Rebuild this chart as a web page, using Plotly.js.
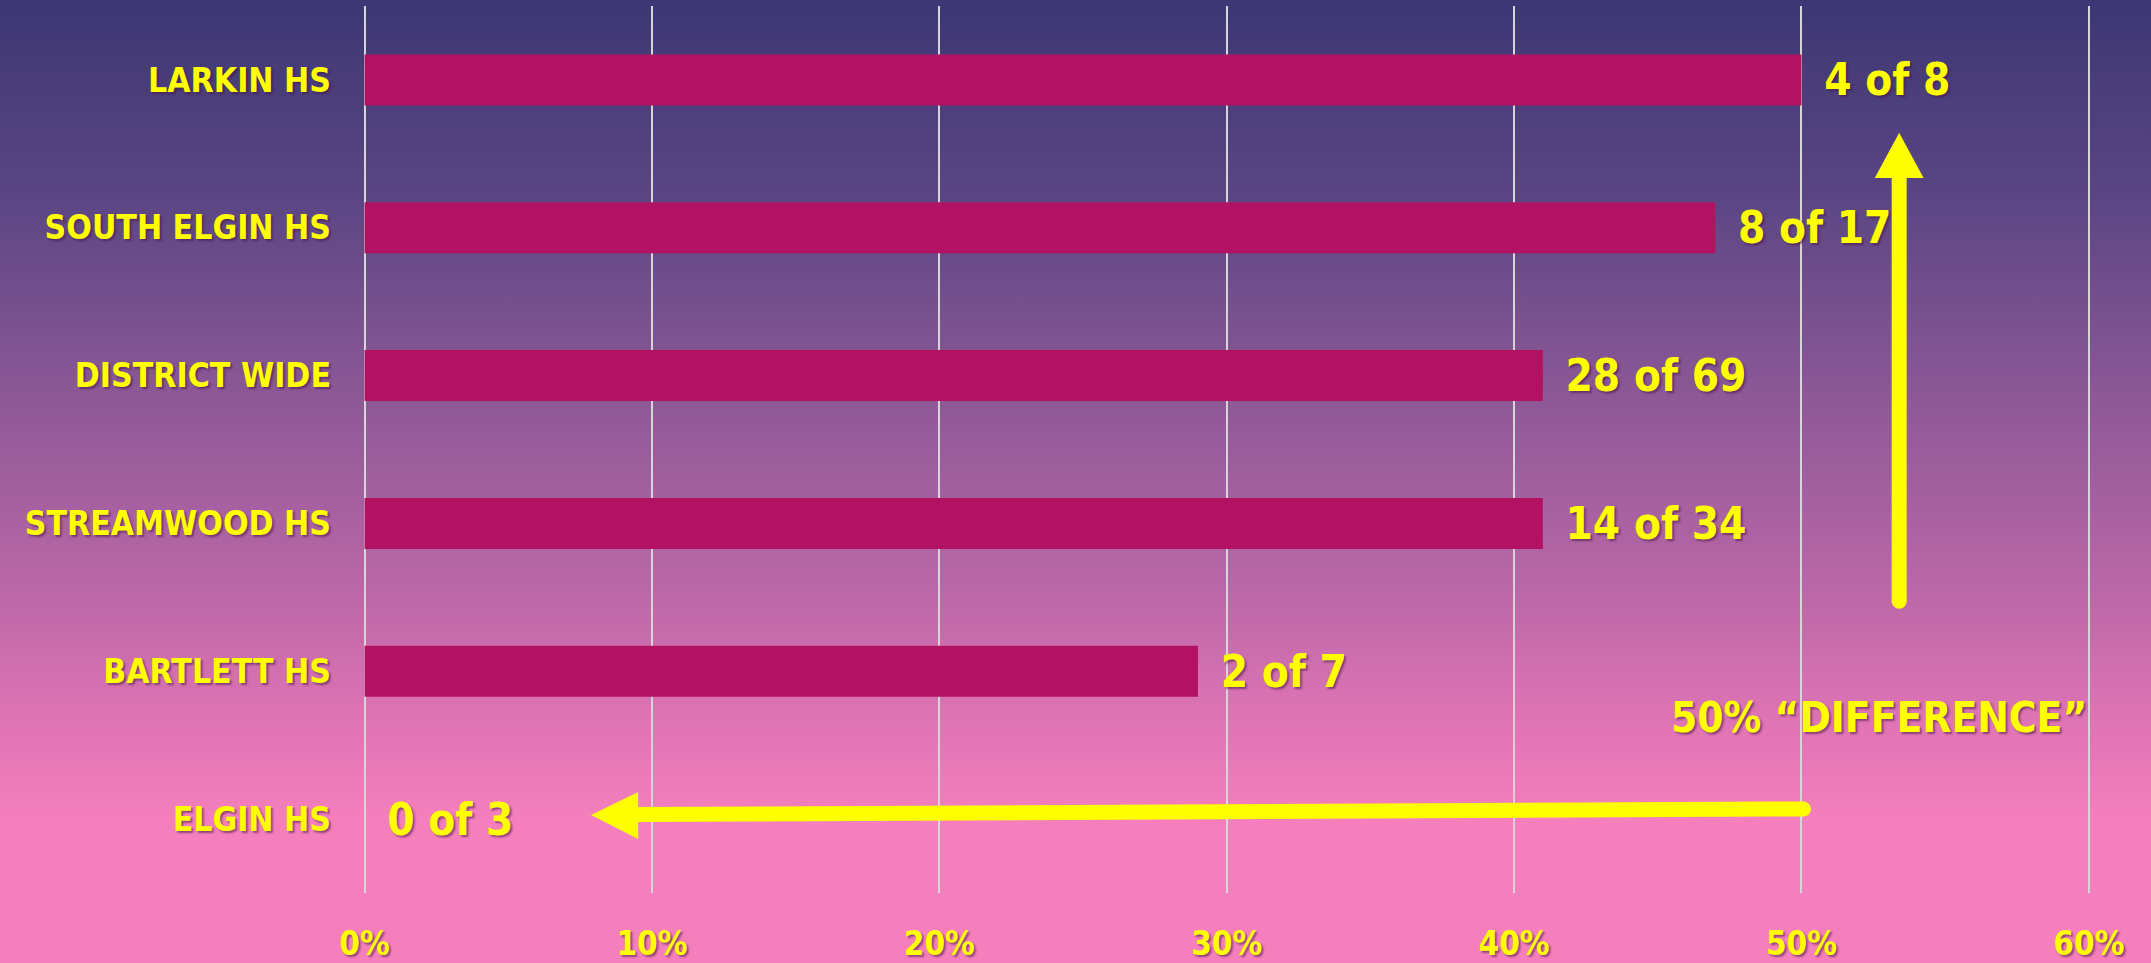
<!DOCTYPE html>
<html>
<head>
<meta charset="utf-8">
<script src="https://cdn.plot.ly/plotly-3.0.1.min.js"></script>
<style>
html, body { margin:0; padding:0; width:2151px; height:963px; overflow:hidden; }
body { background: linear-gradient(to bottom, #3c3773 0%, #5a4583 20%, #8a5795 40%, #b866a6 60%, #e275b5 76%, #f47fbc 85%, #f47fbc 100%); }
#chart { width:2151px; height:963px; }
</style>
</head>
<body>
<div id="chart"></div>
<script>
const schools = ["LARKIN HS", "SOUTH ELGIN HS", "DISTRICT WIDE", "STREAMWOOD HS", "BARTLETT HS", "ELGIN HS"];
const percents = [50, 47, 41, 41, 29, 0];
const labels = ["4 of 8", "8 of 17", "28 of 69", "14 of 34", "2 of 7", "0 of 3"];
const tickValues = [0, 10, 20, 30, 40, 50, 60];
const tickLabels = ["0%", "10%", "20%", "30%", "40%", "50%", "60%"];
const noteText = "50% \u201CDIFFERENCE\u201D";

const FONT = "Liberation Sans Narrow, DejaVu Sans Condensed, Arial Narrow, sans-serif";
const YEL = "#ffff00";
const SHADOW = "2px 2px 2px rgba(70,20,70,0.55)";
const GRID = "#d6d6d6";

const trace = {
  type: "bar",
  orientation: "h",
  y: schools,
  x: percents,
  text: labels,
  texttemplate: "\u2002%{text}",
  textposition: "outside",
  cliponaxis: false,
  textfont: { family: FONT, size: 48, color: YEL, weight: "bold", shadow: SHADOW },
  marker: { color: "#b31262" },
  hoverinfo: "skip"
};

const layout = {
  width: 2151, height: 963,
  margin: { l: 364, r: 61, t: 6, b: 70 },
  paper_bgcolor: "rgba(0,0,0,0)",
  plot_bgcolor: "rgba(0,0,0,0)",
  showlegend: false,
  bargap: 0.655,
  xaxis: {
    range: [-0.02, 60.04],
    tickvals: tickValues,
    ticktext: tickLabels,
    showgrid: true, gridcolor: GRID, gridwidth: 2,
    zeroline: true, zerolinecolor: GRID, zerolinewidth: 2,
    showline: false, ticks: "",
    ticklabelstandoff: 28,
    tickfont: { family: FONT, size: 33, color: YEL, weight: "bold", shadow: SHADOW }
  },
  yaxis: {
    autorange: "reversed",
    showgrid: false, zeroline: false, showline: false, ticks: "",
    ticklabelstandoff: 32,
    tickfont: { family: FONT, size: 33.5, color: YEL, weight: "bold", shadow: SHADOW }
  },
  shapes: [
    { type: "line", xref: "x", yref: "paper", x0: 53.4, x1: 53.4, y0: 0.329, y1: 0.81,
      line: { color: YEL, width: 15 } },
    { type: "circle", xref: "x", yref: "paper", xsizemode: "pixel", ysizemode: "pixel",
      xanchor: 53.4, yanchor: 0.329, x0: -7.5, x1: 7.5, y0: -7.5, y1: 7.5,
      fillcolor: YEL, line: { width: 0 } },
    { type: "path", xref: "x", yref: "paper",
      path: "M 52.55 0.806 L 54.25 0.806 L 53.4 0.857 Z",
      fillcolor: YEL, line: { width: 0 } },
    { type: "line", xref: "x", yref: "paper", x0: 50.07, x1: 9.3, y0: 0.0947, y1: 0.0885,
      line: { color: YEL, width: 15 } },
    { type: "circle", xref: "x", yref: "paper", xsizemode: "pixel", ysizemode: "pixel",
      xanchor: 50.07, yanchor: 0.0947, x0: -7.5, x1: 7.5, y0: -7.5, y1: 7.5,
      fillcolor: YEL, line: { width: 0 } },
    { type: "path", xref: "x", yref: "paper",
      path: "M 9.52 0.114 L 9.52 0.061 L 7.88 0.088 Z",
      fillcolor: YEL, line: { width: 0 } }
  ],
  annotations: [
    { xref: "x", yref: "paper", x: 52.7, y: 0.198, text: noteText, showarrow: false,
      xanchor: "center", yanchor: "middle",
      font: { family: FONT, size: 42, color: YEL, weight: "bold", shadow: SHADOW } }
  ]
};

Plotly.newPlot("chart", [trace], layout, { displayModeBar: false, staticPlot: true });
</script>
</body>
</html>
